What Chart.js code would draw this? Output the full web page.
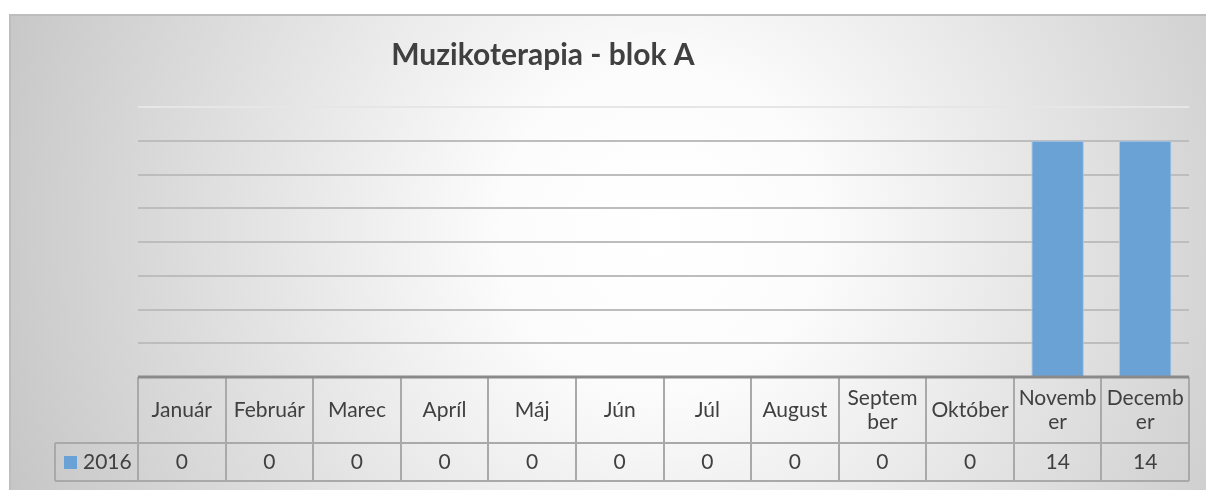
<!DOCTYPE html>
<html lang="sk">
<head>
  <meta charset="UTF-8">
  <title>Muzikoterapia - blok A</title>
  <script src="https://cdn.jsdelivr.net/npm/chart.js"></script>
  <style>
    html, body { margin: 0; padding: 0; background: #fff; overflow: hidden; }
    canvas { display: block; }
  </style>
</head>
<body>
  <canvas id="chart" width="1206" height="490"></canvas>

  <script>
    const chartTitle = 'Muzikoterapia - blok A';
    // header lines as they wrap in the data table
    const months = ['Január', 'Február', 'Marec', 'Apríl', 'Máj', 'Jún', 'Júl', 'August',
      ['Septem', 'ber'], 'Október', ['Novemb', 'er'], ['Decemb', 'er']];
    const seriesName = '2016';
    const values2016 = [0, 0, 0, 0, 0, 0, 0, 0, 0, 0, 14, 14];
    const yMax = 16;
    const yStep = 2;

    const barColor = '#6aa2d6';
    const textColor = '#404040';
    const lineColor = '#a9a9a9';
    const tableFont = '21px Lato';

    const frame = {
      id: 'frame',
      beforeDraw(chart) {
        const ctx = chart.ctx;
        ctx.save();
        ctx.fillStyle = '#fff';
        ctx.fillRect(0, 0, chart.width, chart.height);
        const g = ctx.createRadialGradient(660, 230, 0, 660, 230, 720);
        g.addColorStop(0, '#ffffff');
        g.addColorStop(0.22, '#fcfcfc');
        g.addColorStop(1, '#c4c4c4');
        ctx.fillStyle = g;
        ctx.fillRect(9, 14, chart.width - 9, chart.height - 14);
        ctx.fillStyle = '#bdbdbd';
        ctx.fillRect(9, 14, chart.width - 9, 2);
        ctx.fillRect(9, 14, 2, chart.height - 14);

        ctx.fillStyle = textColor;
        ctx.font = 'bold 30px Lato';
        ctx.textAlign = 'center';
        ctx.textBaseline = 'middle';
        ctx.fillText(chartTitle, 543, 55);
        ctx.restore();
      }
    };

    const dataTable = {
      id: 'dataTable',
      afterDraw(chart) {
        const ctx = chart.ctx;
        const x = chart.scales.x;
        const area = chart.chartArea;
        const colW = x.getPixelForValue(1) - x.getPixelForValue(0);
        const top = area.bottom;
        const mid = top + 66;
        const bottom = mid + 38;
        const keyLeft = area.left - 83;

        ctx.save();
        ctx.strokeStyle = lineColor;
        ctx.lineWidth = 2;
        ctx.beginPath();
        for (let i = 0; i <= months.length; i++) {
          const bx = Math.round(area.left + i * colW);
          ctx.moveTo(bx, top);
          ctx.lineTo(bx, bottom);
        }
        ctx.moveTo(keyLeft, mid);
        ctx.lineTo(area.right, mid);
        ctx.moveTo(keyLeft, bottom);
        ctx.lineTo(area.right, bottom);
        ctx.moveTo(keyLeft, mid);
        ctx.lineTo(keyLeft, bottom);
        ctx.stroke();

        // axis line
        ctx.strokeStyle = '#8a8a8a';
        ctx.lineWidth = 3;
        ctx.beginPath();
        ctx.moveTo(area.left, top);
        ctx.lineTo(area.right, top);
        ctx.stroke();

        ctx.fillStyle = textColor;
        ctx.font = tableFont;
        ctx.textAlign = 'center';
        ctx.textBaseline = 'middle';
        months.forEach((m, i) => {
          const cx = x.getPixelForValue(i);
          const lines = Array.isArray(m) ? m : [m];
          const y0 = (top + mid) / 2 - (lines.length - 1) * 12;
          lines.forEach((t, j) => ctx.fillText(t, cx, y0 + j * 24));
          ctx.fillText(String(values2016[i]), cx, (mid + bottom) / 2);
        });

        // legend key
        ctx.fillStyle = barColor;
        ctx.fillRect(keyLeft + 9, mid + 13, 13, 13);
        ctx.fillStyle = textColor;
        ctx.textAlign = 'left';
        ctx.fillText(seriesName, keyLeft + 28, (mid + bottom) / 2);
        ctx.restore();
      }
    };

    new Chart(document.getElementById('chart'), {
      type: 'bar',
      data: {
        labels: months.map(m => Array.isArray(m) ? m.join('') : m),
        datasets: [{
          label: seriesName,
          data: values2016,
          backgroundColor: barColor,
          borderColor: '#a9c9ea',
          borderWidth: 1,
          barPercentage: 0.6,
          categoryPercentage: 1
        }]
      },
      options: {
        responsive: false,
        animation: false,
        devicePixelRatio: 1,
        layout: { padding: { left: 138, right: 17, top: 107, bottom: 113 } },
        scales: {
          x: {
            grid: { display: false, drawTicks: false },
            ticks: { display: false },
            border: { display: false }
          },
          y: {
            min: 0,
            max: yMax,
            ticks: { display: false, stepSize: yStep },
            grid: {
              drawTicks: false,
              lineWidth: 2,
              color: ctx => ctx.tick && ctx.tick.value === yMax ? '#e6e6e6' : '#bdbdbd'
            },
            border: { display: false }
          }
        },
        plugins: {
          legend: { display: false },
          title: { display: false },
          tooltip: { enabled: false }
        }
      },
      plugins: [frame, dataTable]
    });
  </script>
</body>
</html>
